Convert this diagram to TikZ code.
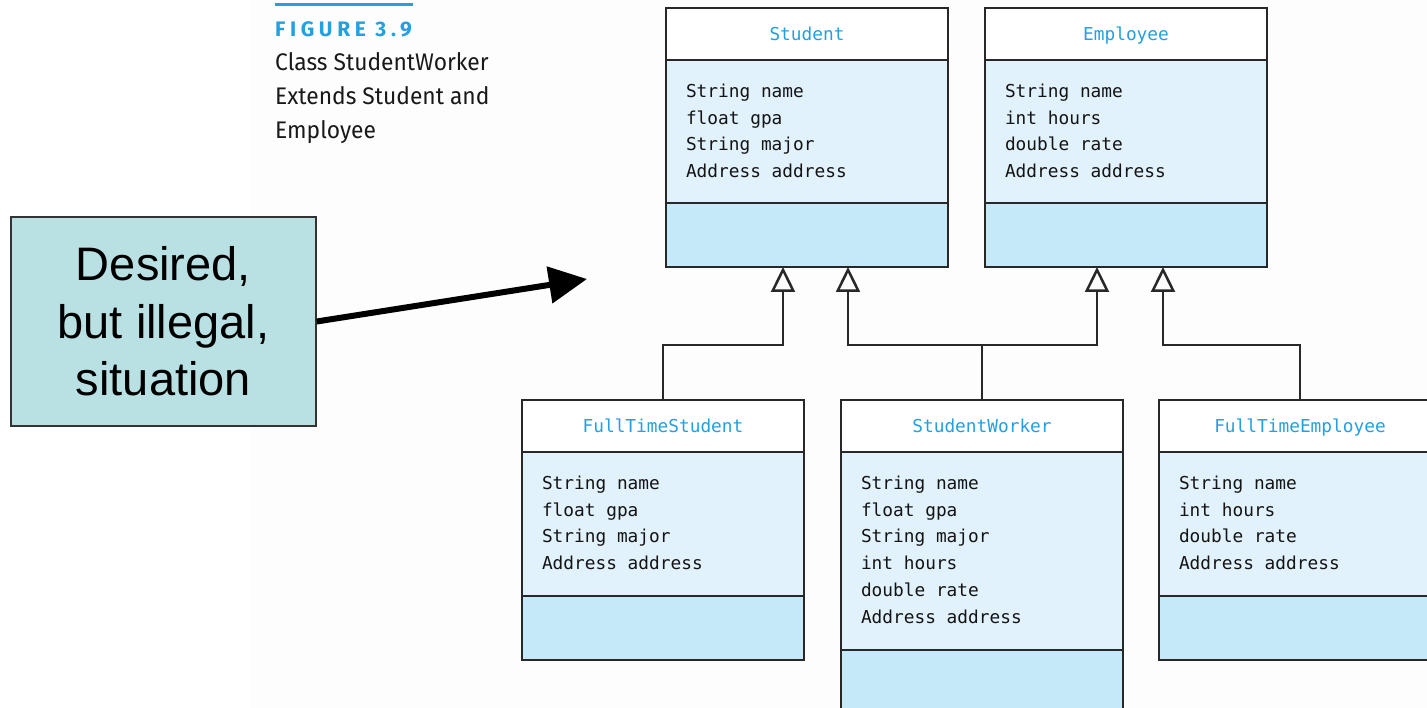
\documentclass[tikz,border=0pt]{standalone}
\usepackage{fontspec}
\usetikzlibrary{arrows.meta}
\setmainfont{Liberation Sans}
\newfontfamily\monofont{DejaVu Sans Mono}
\newfontfamily\capfont[FakeStretch=0.95]{Fira Sans}
\newfontfamily\figfont[LetterSpace=22]{Fira Sans}

\definecolor{ink}{RGB}{40,40,40}
\definecolor{umlblue}{RGB}{35,160,225}
\definecolor{attrfill}{RGB}{225,242,252}
\definecolor{methfill}{RGB}{197,233,248}
\definecolor{notefill}{RGB}{185,224,227}
\definecolor{pagetint}{RGB}{253,253,253}

\tikzset{
  panel/.style={draw=ink, line width=2.5pt, rectangle, minimum width=282pt,
    inner sep=0pt, outer sep=0pt},
  hdr/.style={panel, fill=white, minimum height=52pt, text height=13pt, text depth=0pt,
    font=\monofont\fontsize{17.8}{20}\selectfont, text=umlblue},
  attr/.style={panel, fill=attrfill},
  meth/.style={panel, fill=methfill, minimum height=64pt},
  attrtext/.style={inner sep=0pt, outer sep=0pt, align=left,
    font=\monofont\fontsize{17.8}{26.7}\selectfont, text=black!92},
  inh/.style={draw=ink, line width=2.5pt, line join=miter,
    -{Triangle[open, length=25pt, width=24pt]}},
  link/.style={draw=ink, line width=2.5pt},
  note/.style={draw=black!80, line width=1.5pt, fill=notefill, rectangle,
    minimum width=305pt, minimum height=209pt, align=center, inner sep=0pt,
    font=\fontsize{47}{57.5}\selectfont},
  bigarrow/.style={draw=black, line width=6pt,
    -{Triangle[length=38pt, width=36pt]}}
}

% One UML class: #1 name, #2 left x, #3 top y, #4 attribute panel height,
% #5 class title, #6 attribute lines
\newcommand\umlclass[6]{%
  \node[hdr, anchor=north west] (#1-h) at (#2,#3) {#5};
  \node[attr, minimum height=#4pt, anchor=north] (#1-a) at (#1-h.south) {};
  \node[meth, anchor=north] (#1-m) at (#1-a.south) {};
  \node[attrtext, anchor=north west] (#1-t)
    at ([xshift=20pt,yshift=-24pt]#1-a.north west) {#6};
}

\begin{document}
\begin{tikzpicture}[x=1pt, y=-1pt]
  \useasboundingbox (0,0) rectangle (1427,708);
  \fill[pagetint] (250,0) rectangle (1427,708);

  % caption
  \draw[umlblue, line width=3pt] (275,5) -- (413,5);
  \node[anchor=base west, inner sep=0pt, text=umlblue,
        font=\figfont\bfseries\fontsize{21}{24}\selectfont] (fig) at (275,37) {FIGURE 3.9};
  \node[anchor=north west, inner sep=0pt, align=left, text=black!90,
        font=\capfont\fontsize{24}{34}\selectfont] (cap) at (275,52)
        {Class StudentWorker\\Extends Student and\\Employee};

  % classes
  \umlclass{stu}{666}{8}{143}{Student}
    {String name\\float gpa\\String major\\Address address}
  \umlclass{emp}{985}{8}{143}{Employee}
    {String name\\int hours\\double rate\\Address address}
  \umlclass{fts}{522}{400}{144}{FullTimeStudent}
    {String name\\float gpa\\String major\\Address address}
  \umlclass{sw}{841}{400}{198}{StudentWorker}
    {String name\\float gpa\\String major\\int hours\\double rate\\Address address}
  \umlclass{fte}{1159}{400}{144}{FullTimeEmployee}
    {String name\\int hours\\double rate\\Address address}

  % inheritance connectors
  \coordinate (hy) at (0,345);
  \coordinate (s1) at ([xshift=117pt]stu-m.south west);
  \coordinate (s2) at ([xshift=182pt]stu-m.south west);
  \coordinate (e1) at ([xshift=112pt]emp-m.south west);
  \coordinate (e2) at ([xshift=178pt]emp-m.south west);
  \coordinate (j) at (sw-h.north |- hy);

  \draw[inh] (fts-h.north) -- (fts-h.north |- hy) -| (s1);
  \draw[link] (sw-h.north) -- (j);
  \draw[inh] (j) -| (s2);
  \draw[inh] (j) -| (e1);
  \draw[inh] (fte-h.north) -- (fte-h.north |- hy) -| (e2);

  % annotation
  \node[note] (note) at (163.5,321.5) {Desired,\\but illegal,\\situation};
  \coordinate (aim) at (587,279);
  \draw[bigarrow] (note.east) -- (aim);
\end{tikzpicture}
\end{document}
